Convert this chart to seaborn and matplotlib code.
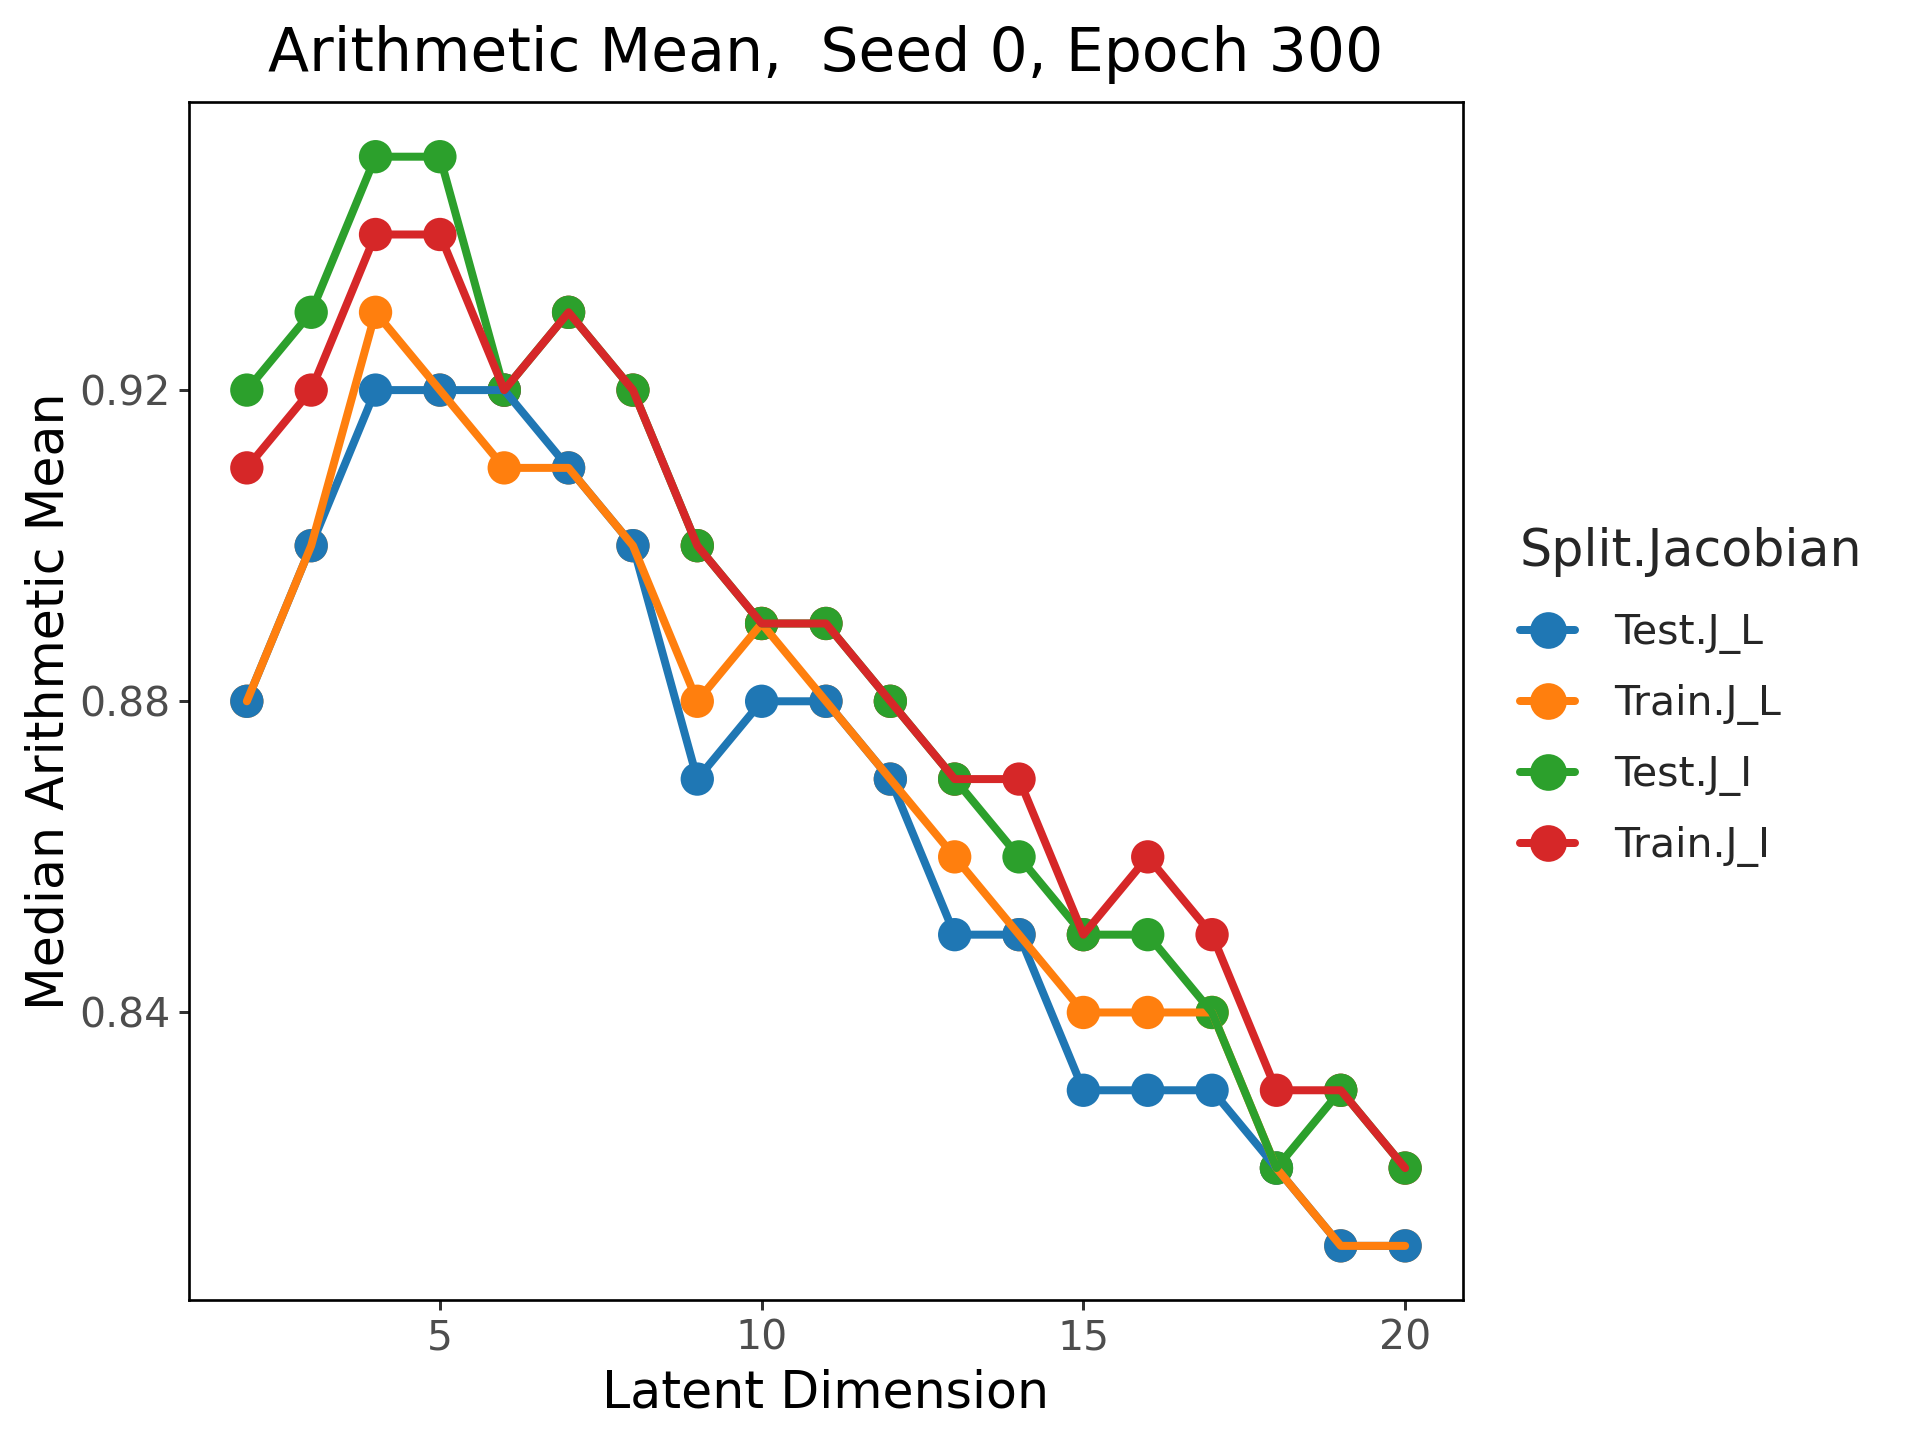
import pandas as pd  # Manipulação dos dados
import matplotlib
matplotlib.use("Agg")
import matplotlib.pyplot as plt  # Gráficos estáticos
from matplotlib.lines import Line2D
import seaborn as sns  # Visualização baseada no matplotlib

sns.set_theme(style="white")  # Fundo branco, sem grelha
plt.rcParams["font.family"] = ["DejaVu Sans"]

# Dimensões latentes (eixo X)
latent_dim = list(range(2, 21))

# Mediana da média aritmética por grupo
test_jl = [0.88, 0.90, 0.92, 0.92, 0.92, 0.91, 0.90, 0.87, 0.88, 0.88,
           0.87, 0.85, 0.85, 0.83, 0.83, 0.83, 0.82, 0.81, 0.81]
train_jl = [0.88, 0.90, 0.93, 0.92, 0.91, 0.91, 0.90, 0.88, 0.89, 0.88,
            0.87, 0.86, 0.85, 0.84, 0.84, 0.84, 0.82, 0.81, 0.81]
test_ji = [0.92, 0.93, 0.95, 0.95, 0.92, 0.93, 0.92, 0.90, 0.89, 0.89,
           0.88, 0.87, 0.86, 0.85, 0.85, 0.84, 0.82, 0.83, 0.82]
train_ji = [0.91, 0.92, 0.94, 0.94, 0.92, 0.93, 0.92, 0.90, 0.89, 0.89,
            0.88, 0.87, 0.87, 0.85, 0.86, 0.85, 0.83, 0.83, 0.82]

grupos = ["Test.J_L", "Train.J_L", "Test.J_I", "Train.J_I"]
cores = {"Test.J_L": "#1f77b4", "Train.J_L": "#ff7f0e",
         "Test.J_I": "#2ca02c", "Train.J_I": "#d62728"}
series = {"Test.J_L": test_jl, "Train.J_L": train_jl,
          "Test.J_I": test_ji, "Train.J_I": train_ji}

# Tabela em formato longo
df = pd.concat(
    [pd.DataFrame({"dim": latent_dim, "valor": series[g], "grupo": g}) for g in grupos],
    ignore_index=True,
)
# Ordem de desenho dos pontos (como no original)
ordem_pontos = ["Train.J_L", "Test.J_L", "Train.J_I", "Test.J_I"]
df_pontos = pd.concat([df[df["grupo"] == g] for g in ordem_pontos], ignore_index=True)

fig = plt.figure(figsize=(8, 6), dpi=240)
ax = fig.add_axes([0.0984, 0.097, 0.6636, 0.832])

# Pontos primeiro, linhas por cima
sns.scatterplot(data=df_pontos, x="dim", y="valor", hue="grupo", hue_order=grupos,
                palette=cores, s=100, linewidth=0, legend=False, zorder=2, ax=ax)
sns.lineplot(data=df, x="dim", y="valor", hue="grupo", hue_order=grupos,
             palette=cores, linewidth=2.4, legend=False, zorder=3, ax=ax)

ax.set_xlim(1.1, 20.9)
ax.set_ylim(0.803, 0.957)
ax.set_xticks([5, 10, 15, 20])
ax.set_yticks([0.84, 0.88, 0.92])
ax.set_yticklabels(["0.84", "0.88", "0.92"])

for s in ax.spines.values():
    s.set_color("black")
    s.set_linewidth(0.8)
ax.tick_params(axis="both", which="major", bottom=True, left=True, length=3,
               width=0.9, color="#333333", labelcolor="#4D4D4D", labelsize=12.3, pad=2.5)

ax.set_title("Arithmetic Mean,  Seed 0, Epoch 300", fontsize=18, color="black", pad=9.5)
ax.set_xlabel("Latent Dimension", fontsize=15.2, color="black", labelpad=3)
ax.set_ylabel("Median Arithmetic Mean", fontsize=15.2, color="black", labelpad=1.5)

# Legenda manual com linha e ponto
handles = [Line2D([], [], color=cores[g], lw=2.4, marker="o", markersize=10) for g in grupos]
leg = fig.legend(handles, grupos, title="Split.Jacobian", loc="center left",
                 bbox_to_anchor=(0.781, 0.516), frameon=False, fontsize=12.3,
                 title_fontsize=15.2, handlelength=1.35, handletextpad=0.95,
                 labelspacing=0.73, borderpad=0, alignment="left")
leg._legend_box.sep = 11  # espaço entre o título e as entradas

fig.savefig("out.png", dpi=240)
plt.close()
